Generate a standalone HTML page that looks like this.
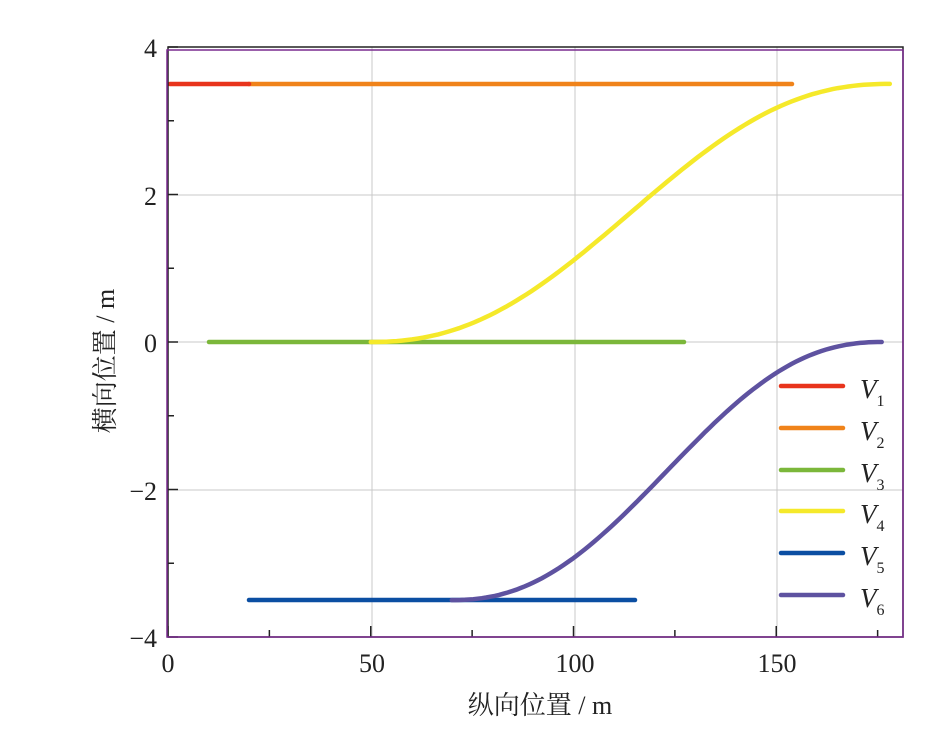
<!DOCTYPE html>
<html><head><meta charset="utf-8"><style>
body{margin:0;background:#fff}
text{font-family:"Liberation Serif","Noto Serif CJK SC",serif;fill:#222}
</style></head><body>
<svg id="s" width="929" height="735" xmlns="http://www.w3.org/2000/svg">
<rect width="929" height="735" fill="#fff"/>
<g stroke="#c8c8c8" stroke-width="1">
<line x1="372" y1="47" x2="372" y2="637"/><line x1="575" y1="47" x2="575" y2="637"/><line x1="777" y1="47" x2="777" y2="637"/>
<line x1="168" y1="195" x2="903" y2="195"/><line x1="168" y1="342" x2="903" y2="342"/><line x1="168" y1="490" x2="903" y2="490"/>
</g>
<g stroke="#222" stroke-width="1.5" id="ticks"></g>
<g fill="none" stroke-width="4.5" stroke-linecap="round">
<line x1="249" y1="84" x2="792" y2="84" stroke="#f0831a"/>
<line x1="170" y1="84" x2="249" y2="84" stroke="#e8341c"/>
<line x1="209" y1="342" x2="684" y2="342" stroke="#7bb73a"/>
<path id="v4" stroke="#f5e92a"/>
<line x1="249" y1="600" x2="635" y2="600" stroke="#0b4ea2"/>
<path id="v6" stroke="#5e52a0"/>
</g>
<rect x="168" y="47" width="735" height="590" fill="none" stroke="#222" stroke-width="1.5"/>
<rect x="167" y="50" width="736" height="587" fill="none" stroke="#7a2b8f" stroke-width="1.5"/>
<g stroke-width="4.5" stroke-linecap="round">
<line x1="781" y1="386" x2="843" y2="386" stroke="#e8341c"/>
<line x1="781" y1="428" x2="843" y2="428" stroke="#f0831a"/>
<line x1="781" y1="470" x2="843" y2="470" stroke="#7bb73a"/>
<line x1="781" y1="511" x2="843" y2="511" stroke="#f5e92a"/>
<line x1="781" y1="553" x2="843" y2="553" stroke="#0b4ea2"/>
<line x1="781" y1="595" x2="843" y2="595" stroke="#5e52a0"/>
</g>
<g font-size="27" font-style="italic">
<text x="860" y="398">V<tspan font-size="16" font-style="normal" dy="8">1</tspan></text>
<text x="860" y="440">V<tspan font-size="16" font-style="normal" dy="8">2</tspan></text>
<text x="860" y="482">V<tspan font-size="16" font-style="normal" dy="8">3</tspan></text>
<text x="860" y="523">V<tspan font-size="16" font-style="normal" dy="8">4</tspan></text>
<text x="860" y="565">V<tspan font-size="16" font-style="normal" dy="8">5</tspan></text>
<text x="860" y="607">V<tspan font-size="16" font-style="normal" dy="8">6</tspan></text>
</g>
<g font-size="26" text-anchor="end">
<text x="157" y="57">4</text><text x="157" y="205">2</text><text x="157" y="352">0</text>
<text x="157" y="500">−2</text><text x="157" y="647">−4</text>
</g>
<g font-size="26" text-anchor="middle">
<text x="168" y="672">0</text><text x="372" y="672">50</text><text x="575" y="672">100</text><text x="777" y="672">150</text>
<text x="540" y="714">纵向位置 / m</text>
<text transform="translate(114,361) rotate(-90)">横向位置 / m</text>
</g>
</svg>
<script>
function X(v){return 168+v*4.055}function Y(v){return 342-v*73.75}
function sig(x0,x1,y0,y1){let d="";for(let i=0;i<=100;i++){let t=i/100,x=x0+(x1-x0)*t,s=t*t*t*(10-15*t+6*t*t),c=(1-Math.cos(Math.PI*t))/2,y=y0+(y1-y0)*(0.5*s+0.5*c);d+=(i?"L":"M")+X(x).toFixed(1)+" "+Y(y).toFixed(1)}return d}
document.getElementById("v4").setAttribute("d",sig(50,178,0,3.5));
document.getElementById("v6").setAttribute("d",sig(70,176,-3.5,0));
let g=document.getElementById("ticks"),h="";
for(let v=0;v<=175;v+=25){let x=X(v);h+=`<line x1="${x}" y1="637" x2="${x}" y2="${v%50?630:626}"/>`}
for(let v=-4;v<=4;v++){let y=Y(v);h+=`<line x1="168" y1="${y}" x2="${v%2?174:178}" y2="${y}"/>`}
g.innerHTML=h;
</script>
</body></html>
